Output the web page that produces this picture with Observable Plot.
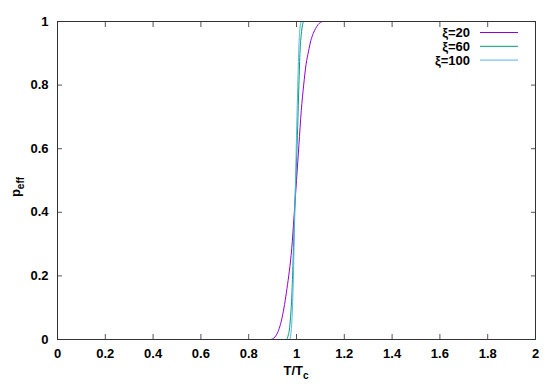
<!DOCTYPE html>
<html>
<head>
<meta charset="utf-8">
<script src="https://cdn.jsdelivr.net/npm/d3@7"></script>
<script src="https://cdn.jsdelivr.net/npm/@observablehq/plot@0.6"></script>
<style>
  html, body { margin: 0; padding: 0; background: #fff; }
  #chart svg { display: block; }
</style>
</head>
<body>
<div id="chart"></div>
<script>
// ---- data ----
const seriesNames = ["ξ=20", "ξ=60", "ξ=100"];
const seriesColors = ["#9400d3", "#009e73", "#56b4e9"];

const t20 = [0.86, 0.89, 0.90, 0.91, 0.92, 0.93, 0.94, 0.95, 0.96, 0.97, 0.98, 0.99, 1.00, 1.01, 1.02, 1.03, 1.04, 1.05, 1.06, 1.07, 1.08, 1.09, 1.10, 1.11, 1.14];
const p20 = [0, 0, 0.002, 0.008, 0.02, 0.04, 0.07, 0.11, 0.16, 0.215, 0.285, 0.39, 0.50, 0.61, 0.72, 0.80, 0.865, 0.905, 0.94, 0.962, 0.978, 0.99, 0.997, 1.0, 1.0];

const t60 = [0.94, 0.958, 0.962, 0.966, 0.970, 0.975, 0.980, 0.985, 0.990, 0.995, 1.000, 1.005, 1.010, 1.015, 1.020, 1.025, 1.030, 1.05];
const p60 = [0, 0, 0.005, 0.015, 0.03, 0.07, 0.13, 0.23, 0.35, 0.46, 0.56, 0.67, 0.80, 0.91, 0.96, 0.988, 1.0, 1.0];

const t100 = [0.95, 0.970, 0.974, 0.978, 0.982, 0.986, 0.990, 0.994, 0.998, 1.002, 1.006, 1.010, 1.014, 1.018, 1.022, 1.04];
const p100 = [0, 0, 0.005, 0.03, 0.08, 0.17, 0.30, 0.44, 0.57, 0.70, 0.82, 0.92, 0.975, 0.995, 1.0, 1.0];

const xTicks = [0, 0.2, 0.4, 0.6, 0.8, 1, 1.2, 1.4, 1.6, 1.8, 2];
const yTicks = [0, 0.2, 0.4, 0.6, 0.8, 1];
const xLabelMain = "T/T";
const xLabelSub = "c";
const yLabelMain = "p";
const yLabelSub = "eff";

// ---- build table ----
const rows = [];
[[t20, p20], [t60, p60], [t100, p100]].forEach(([ts, ps], i) => {
  ts.forEach((t, j) => rows.push({series: seriesNames[i], T: t, p: ps[j]}));
});

const font = "'Liberation Sans', Arial, sans-serif";
const fmt = d3.format("~g");

const chart = Plot.plot({
  width: 550,
  height: 387,
  marginLeft: 57,
  marginRight: 15,
  marginTop: 21,
  marginBottom: 48,
  style: {fontFamily: font, background: "#fff", overflow: "visible"},
  x: {domain: [0, 2]},
  y: {domain: [0, 1]},
  color: {domain: seriesNames, range: seriesColors},
  marks: [
    Plot.line(rows, {x: "T", y: "p", z: "series", stroke: "series", strokeWidth: 1, curve: "monotone-x"}),
    // tick marks, pointing inward on all four sides
    Plot.axisX(xTicks, {anchor: "bottom", tickSize: 5, dy: -5, text: null, label: null, stroke: "#555"}),
    Plot.axisX(xTicks, {anchor: "top", tickSize: 5, dy: 5, text: null, label: null, stroke: "#555"}),
    Plot.axisY(yTicks, {anchor: "left", tickSize: 5, dx: 5, text: null, label: null, stroke: "#555"}),
    Plot.axisY(yTicks, {anchor: "right", tickSize: 5, dx: -5, text: null, label: null, stroke: "#555"}),
    // tick labels
    Plot.axisX(xTicks, {anchor: "bottom", tickSize: 0, tickPadding: 9, tickFormat: fmt, label: null, fontSize: 13, fontWeight: "bold", fill: "#000"}),
    Plot.axisY(yTicks, {anchor: "left", tickSize: 0, tickPadding: 9, tickFormat: fmt, label: null, fontSize: 13, fontWeight: "bold", fill: "#000"}),
    Plot.frame({stroke: "#333", strokeWidth: 1})
  ]
});

document.getElementById("chart").appendChild(chart);

// ---- axis titles with subscripts and legend ----
const svg = d3.select(chart);
const sx = chart.scale("x"), sy = chart.scale("y");

const xt = svg.append("text")
  .attr("x", sx.apply(1))
  .attr("y", 375)
  .attr("text-anchor", "middle")
  .style("font-family", font).style("font-size", "13px").style("font-weight", "bold");
xt.append("tspan").text(xLabelMain);
xt.append("tspan").attr("dy", 4).style("font-size", "10px").text(xLabelSub);

const yMid = (sy.apply(0) + sy.apply(1)) / 2 + 7;
const yt = svg.append("text")
  .attr("transform", `translate(20,${yMid}) rotate(-90)`)
  .attr("text-anchor", "middle")
  .style("font-family", font).style("font-size", "13px").style("font-weight", "bold");
yt.append("tspan").text(yLabelMain);
yt.append("tspan").attr("dy", 4).style("font-size", "10px").text(yLabelSub);

const lg = svg.append("g");
seriesNames.forEach((name, i) => {
  const y = 32.5 + i * 13.8;
  lg.append("text")
    .attr("x", 470).attr("y", y)
    .attr("dy", "0.35em")
    .attr("text-anchor", "end")
    .style("font-family", font).style("font-size", "13px").style("font-weight", "bold")
    .text(name);
  lg.append("line")
    .attr("x1", 480).attr("x2", 518)
    .attr("y1", y).attr("y2", y)
    .attr("stroke", seriesColors[i]).attr("stroke-width", 1);
});
</script>
</body>
</html>
